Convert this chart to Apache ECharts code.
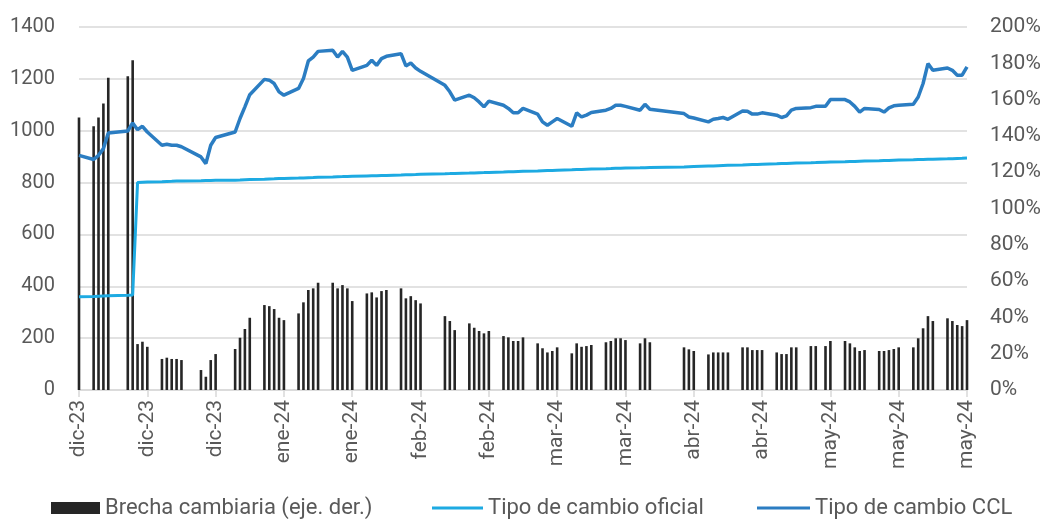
<!DOCTYPE html>
<html>
<head>
<meta charset="utf-8">
<script src="https://cdn.jsdelivr.net/npm/echarts@6/dist/echarts.min.js"></script>
<style>
  html, body { margin: 0; padding: 0; background: #fff; }
  #chart { width: 1051px; height: 519px; }
</style>
</head>
<body>
<div id="chart"></div>
<script>
// dias habiles (AR) con dato
const fechas = [
  '2023-12-01','2023-12-04','2023-12-05','2023-12-06','2023-12-07','2023-12-11','2023-12-12','2023-12-13','2023-12-14','2023-12-15',
  '2023-12-18','2023-12-19','2023-12-20','2023-12-21','2023-12-22','2023-12-26','2023-12-27','2023-12-28','2023-12-29',
  '2024-01-02','2024-01-03','2024-01-04','2024-01-05','2024-01-08','2024-01-09','2024-01-10','2024-01-11','2024-01-12',
  '2024-01-15','2024-01-16','2024-01-17','2024-01-18','2024-01-19','2024-01-22','2024-01-23','2024-01-24','2024-01-25','2024-01-26',
  '2024-01-29','2024-01-30','2024-01-31',
  '2024-02-01','2024-02-02','2024-02-05','2024-02-06','2024-02-07','2024-02-08','2024-02-09','2024-02-14','2024-02-15','2024-02-16',
  '2024-02-19','2024-02-20','2024-02-21','2024-02-22','2024-02-23','2024-02-26','2024-02-27','2024-02-28','2024-02-29',
  '2024-03-01','2024-03-04','2024-03-05','2024-03-06','2024-03-07','2024-03-08','2024-03-11','2024-03-12','2024-03-13','2024-03-14',
  '2024-03-15','2024-03-18','2024-03-19','2024-03-20','2024-03-21','2024-03-22','2024-03-25','2024-03-26','2024-03-27',
  '2024-04-03','2024-04-04','2024-04-05','2024-04-08','2024-04-09','2024-04-10','2024-04-11','2024-04-12','2024-04-15','2024-04-16',
  '2024-04-17','2024-04-18','2024-04-19','2024-04-22','2024-04-23','2024-04-24','2024-04-25','2024-04-26','2024-04-29','2024-04-30',
  '2024-05-02','2024-05-03','2024-05-06','2024-05-07','2024-05-08','2024-05-09','2024-05-10','2024-05-13','2024-05-14','2024-05-15',
  '2024-05-16','2024-05-17','2024-05-20','2024-05-21','2024-05-22','2024-05-23','2024-05-24','2024-05-27','2024-05-28','2024-05-29',
  '2024-05-30','2024-05-31'
];

// tipo de cambio CCL ($)
const ccl = [
  905, 889, 905, 931, 991, 999, 1030, 1004, 1017, 995, 944, 948, 944, 944, 938, 899, 873, 944, 974,
  995, 1047, 1092, 1139, 1198, 1195, 1182, 1150, 1137, 1163, 1201, 1269, 1284, 1306, 1310, 1284, 1306, 1284, 1233, 1252, 1272, 1252,
  1278, 1287, 1297, 1250, 1261, 1242, 1229, 1175, 1150, 1118, 1137, 1127, 1111, 1092, 1114, 1098, 1086, 1069, 1069,
  1086, 1064, 1034, 1021, 1034, 1047, 1017, 1069, 1053, 1060, 1070, 1079, 1086, 1098, 1098, 1094, 1079, 1102, 1083,
  1066, 1053, 1049, 1034, 1044, 1047, 1051, 1044, 1076, 1075, 1064, 1064, 1069, 1060, 1051, 1057, 1079, 1086, 1089, 1094,
  1094, 1120, 1120, 1111, 1094, 1072, 1086, 1082, 1072, 1088, 1096, 1098, 1102, 1130, 1182, 1259, 1233, 1242, 1233, 1214, 1214, 1246
];

// tipo de cambio oficial ($)
const oficial = [
  359.5, 361.0, 361.8, 362.6, 363.4, 365.0, 366.5, 800.0, 801.0, 801.9, 803.5, 804.3, 805.0, 805.8, 806.5, 807.2, 807.6, 808.0, 808.5,
  809.3, 810.0, 810.8, 811.5, 813.0, 813.8, 814.5, 815.3, 816.0, 817.3, 818.0, 818.8, 819.5, 820.3, 821.5, 822.3, 823.0, 823.8, 824.5, 825.7, 826.0, 826.3,
  827.0, 827.7, 829.0, 829.7, 830.4, 831.0, 831.7, 834.0, 834.6, 835.3, 836.6, 837.3, 838.0, 838.6, 839.3, 840.6, 841.3, 842.0, 842.8,
  843.5, 844.8, 845.5, 846.2, 846.9, 847.5, 849.3, 850.0, 850.7, 851.4, 852.0, 853.6, 854.2, 854.9, 855.6, 856.3, 857.2, 857.6, 858.0,
  860.5, 861.2, 861.9, 863.7, 864.3, 865.0, 865.7, 866.4, 868.0, 868.7, 869.4, 870.1, 870.8, 872.6, 873.3, 874.0, 874.7, 875.4, 876.5, 877.0,
  878.3, 878.9, 880.3, 880.9, 881.5, 882.2, 882.8, 884.2, 884.8, 885.4, 886.0, 886.6, 888.0, 888.6, 889.2, 889.8, 890.4, 891.7, 892.3, 892.9, 893.5, 894.5
];

// brecha cambiaria (%)
const brecha = [
  150.1, 145.3, 150.1, 157.8, 172.1, 172.9, 181.7, 25.3, 26.6, 23.8, 17.1, 17.8, 17.1, 17.1, 16.5, 11.0, 7.3, 16.5, 19.8,
  22.6, 28.8, 33.6, 39.8, 46.8, 46.2, 44.6, 39.8, 38.5, 42.2, 48.3, 55.1, 56.0, 59.1, 59.1, 56.0, 57.8, 56.0, 49.0, 53.2, 53.8, 51.0,
  54.5, 55.1, 56.0, 50.5, 51.7, 49.5, 47.7, 40.7, 38.0, 33.0, 36.7, 34.3, 32.5, 31.2, 32.5, 29.7, 29.0, 27.0, 27.0,
  29.0, 25.7, 23.0, 20.7, 21.5, 23.5, 20.2, 25.7, 23.8, 24.2, 24.8, 26.3, 27.0, 28.5, 28.5, 27.5, 25.7, 28.5, 26.3,
  23.5, 22.4, 21.5, 19.6, 20.7, 20.7, 20.7, 20.7, 23.5, 23.5, 22.0, 22.0, 22.0, 20.7, 19.8, 19.8, 23.5, 23.5, 24.2, 24.2,
  24.2, 27.0, 27.0, 25.7, 23.5, 21.5, 22.0, 21.5, 21.5, 22.0, 22.6, 23.5, 23.5, 28.5, 34.0, 40.7, 38.0, 39.5, 38.0, 35.8, 35.2, 38.5
];

const meses = ['ene', 'feb', 'mar', 'abr', 'may', 'jun', 'jul', 'ago', 'sep', 'oct', 'nov', 'dic'];
const inicio = '2023-12-01';
const totalDias = 183;

// eje diario (calendario), null en dias sin dato
const dias = [];
const start = new Date(inicio + 'T00:00:00Z');
for (let i = 0; i < totalDias; i++) {
  const d = new Date(start.getTime() + i * 86400000);
  dias.push(d.toISOString().slice(0, 10));
}
const idx = {};
fechas.forEach((f, i) => { idx[f] = i; });
const pick = arr => dias.map(f => (f in idx ? arr[idx[f]] : null));

const fmtMes = f => {
  const m = parseInt(f.slice(5, 7), 10);
  return meses[m - 1] + '-' + f.slice(2, 4);
};

const font = 'Roboto';
const gris = '#595959';
const colOficial = '#1daae2';
const colCcl = '#2b7dc2';

const legendText = {color: gris, fontSize: 22, fontFamily: font};

const chart = echarts.init(document.getElementById('chart'));
chart.setOption({
  animation: false,
  textStyle: {fontFamily: font},
  grid: {left: 79, right: 84, top: 27, bottom: 129},
  // una leyenda por serie para fijar cada posicion e icono
  legend: [
    {
      left: 46,
      top: 492,
      itemWidth: 49,
      itemHeight: 12,
      textStyle: legendText,
      data: [{name: 'Brecha cambiaria (eje. der.)', icon: 'rect'}]
    },
    {
      left: 427,
      top: 492,
      itemWidth: 51,
      itemHeight: 3,
      textStyle: legendText,
      data: [{name: 'Tipo de cambio oficial', icon: 'rect'}]
    },
    {
      left: 752,
      top: 492,
      itemWidth: 53,
      itemHeight: 3,
      textStyle: legendText,
      data: [{name: 'Tipo de cambio CCL', icon: 'rect'}]
    }
  ],
  xAxis: {
    type: 'category',
    data: dias,
    boundaryGap: false,
    axisLine: {lineStyle: {color: '#d9d9d9', width: 1.5}},
    axisTick: {
      interval: 13,
      length: 7,
      lineStyle: {color: '#d9d9d9', width: 1.5}
    },
    axisLabel: {
      interval: 13,
      rotate: 90,
      margin: 10,
      color: gris,
      fontSize: 21,
      fontFamily: font,
      formatter: fmtMes
    },
    splitLine: {show: false}
  },
  yAxis: [
    {
      type: 'value',
      min: 0,
      max: 1400,
      interval: 200,
      axisLine: {show: false},
      axisTick: {show: false},
      axisLabel: {color: gris, fontSize: 20, fontFamily: font, margin: 24, formatter: v => String(v)},
      splitLine: {lineStyle: {color: '#d9d9d9', width: 1.5}}
    },
    {
      type: 'value',
      min: 0,
      max: 200,
      interval: 20,
      axisLine: {show: false},
      axisTick: {show: false},
      axisLabel: {color: gris, fontSize: 21, fontFamily: font, margin: 23, formatter: '{value}%'},
      splitLine: {show: false}
    }
  ],
  series: [
    {
      name: 'Brecha cambiaria (eje. der.)',
      type: 'bar',
      yAxisIndex: 1,
      barWidth: 2.6,
      itemStyle: {color: '#262626'},
      data: pick(brecha)
    },
    {
      name: 'Tipo de cambio oficial',
      type: 'line',
      yAxisIndex: 0,
      symbol: 'none',
      connectNulls: true,
      lineStyle: {color: colOficial, width: 3},
      itemStyle: {color: colOficial},
      data: pick(oficial)
    },
    {
      name: 'Tipo de cambio CCL',
      type: 'line',
      yAxisIndex: 0,
      symbol: 'none',
      connectNulls: true,
      lineStyle: {color: colCcl, width: 3.5},
      itemStyle: {color: colCcl},
      data: pick(ccl)
    }
  ]
});
</script>
</body>
</html>
